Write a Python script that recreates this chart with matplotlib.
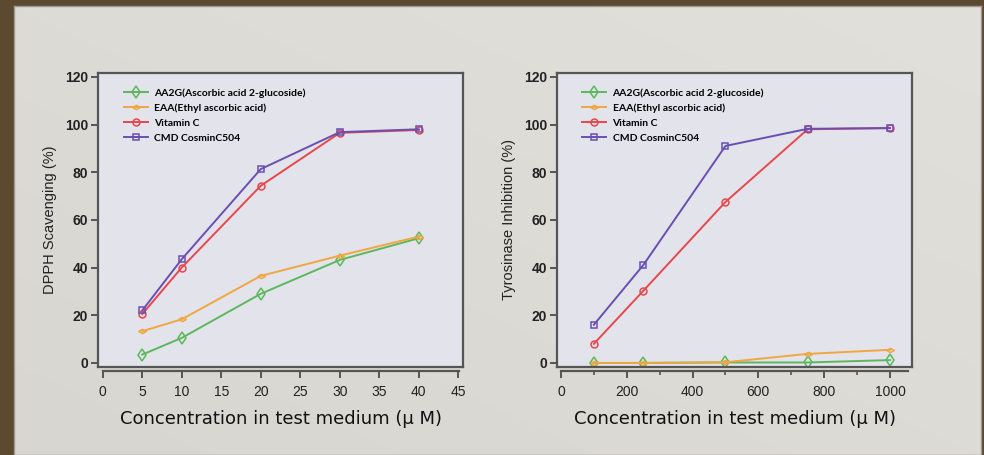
import numpy as np
import matplotlib
matplotlib.use('Agg')
import matplotlib.pyplot as plt
from matplotlib.ticker import MultipleLocator

# data
dpph_conc = [5, 10, 20, 30, 40]
dpph_aa2g = [3.5, 10.5, 29.0, 43.2, 52.3]
dpph_eaa = [13.3, 18.3, 36.5, 45.0, 53.0]
dpph_vitc = [20.5, 40.0, 74.3, 96.5, 97.7]
dpph_cmd = [22.0, 43.5, 81.3, 96.8, 98.0]

tyr_conc = [100, 250, 500, 750, 1000]
tyr_aa2g = [0.0, 0.0, 0.2, 0.2, 1.2]
tyr_eaa = [0.0, 0.0, 0.3, 3.8, 5.5]
tyr_vitc = [8.0, 30.2, 67.5, 98.0, 98.5]
tyr_cmd = [16.0, 41.0, 91.0, 98.2, 98.5]

labels = ['AA2G(Ascorbic acid 2-glucoside)', 'EAA(Ethyl ascorbic acid)',
          'Vitamin C', 'CMD CosminC504']
colors = ['#5cb85c', '#f0a740', '#e8474c', '#6a4fb2']
flat_diamond = [(-1, 0), (0, 0.55), (1, 0), (0, -0.55), (-1, 0)]
markers = ['d', flat_diamond, 'o', 's']
msizes = [6.5, 5.5, 5, 5]

plt.rcParams['font.family'] = ['Liberation Sans', 'DejaVu Sans']

fig = plt.figure(figsize=(9.84, 4.55), dpi=100)
fig.patch.set_facecolor('#5b4930')

# light panel with a soft gradient
bg = fig.add_axes([14 / 984, 0, 967 / 984, 1 - 6 / 455])
grad = np.linspace(0, 1, 256)
gx, gy = np.meshgrid(grad, grad)
bg.imshow((gx + (1 - gy)) / 2, cmap=plt.matplotlib.colors.LinearSegmentedColormap.from_list(
    'p', ['#d8d6d0', '#e2e0da']), aspect='auto', extent=[0, 1, 0, 1])
bg.set_xlim(0, 1)
bg.set_ylim(0, 1)
for s in bg.spines.values():
    s.set_color('#9a9890')
    s.set_linewidth(1)
bg.set_xticks([])
bg.set_yticks([])


def draw(ax, x, series, ylabel, xlim, xmaj, xmin_loc):
    ax.set_facecolor('#e3e3ec')
    for y, lab, c, m, ms in zip(series, labels, colors, markers, msizes):
        ax.plot(x, y, color=c, lw=1.4, marker=m, ms=ms, mfc='none', mec=c,
                mew=1.1, label=lab)
    ax.set_xlim(*xlim)
    ax.set_ylim(-1.7, 121.6)
    ax.yaxis.set_major_locator(MultipleLocator(20))
    ax.xaxis.set_major_locator(MultipleLocator(xmaj))
    if xmin_loc:
        ax.xaxis.set_minor_locator(MultipleLocator(xmin_loc))
    for s in ax.spines.values():
        s.set_color('#555555')
        s.set_linewidth(1.6)
    ax.spines['bottom'].set_position(('outward', 3))
    ax.spines['bottom'].set_bounds(0, xlim[1] - (xlim[1] - xlim[0]) * 0.012)
    # close the box under the data
    ax.plot([0, 1], [0, 0], transform=ax.transAxes, color='#555555', lw=1.6,
            clip_on=False)
    ax.tick_params(axis='both', direction='out', length=5, width=1.4,
                   color='#555555')
    ax.tick_params(axis='x', which='minor', direction='out', length=3,
                   width=1.2, color='#555555')
    ax.tick_params(axis='y', labelsize=10, pad=2)
    ax.tick_params(axis='x', labelsize=10, pad=5)
    for t in ax.get_yticklabels():
        t.set_fontweight('bold')
        t.set_color('#222222')
    for t in ax.get_xticklabels():
        t.set_color('#222222')
    ax.set_ylabel(ylabel, fontsize=10.5, color='#222222', labelpad=6)
    ax.set_xlabel('Concentration in test medium (\u03bc M)', fontsize=13,
                  family=['DejaVu Sans'], color='#111111', labelpad=8)
    ax.legend(loc='upper left', bbox_to_anchor=(0.045, 0.98), frameon=False,
              handlelength=2.3, handletextpad=0.6, labelspacing=0.55,
              prop={'family': ['Lato', 'DejaVu Sans'], 'size': 7.5,
                    'weight': 'bold'})


ax1 = fig.add_axes([98 / 984, 1 - 367 / 455, 365 / 984, 294 / 455])
draw(ax1, dpph_conc, [dpph_aa2g, dpph_eaa, dpph_vitc, dpph_cmd],
     'DPPH Scavenging (%)', (-0.6, 45.6), 5, None)

ax2 = fig.add_axes([557 / 984, 1 - 367 / 455, 355 / 984, 294 / 455])
draw(ax2, tyr_conc, [tyr_aa2g, tyr_eaa, tyr_vitc, tyr_cmd],
     'Tyrosinase Inhibition (%)', (-12, 1067), 200, 100)

fig.savefig('out.png', dpi=100, facecolor=fig.get_facecolor())
